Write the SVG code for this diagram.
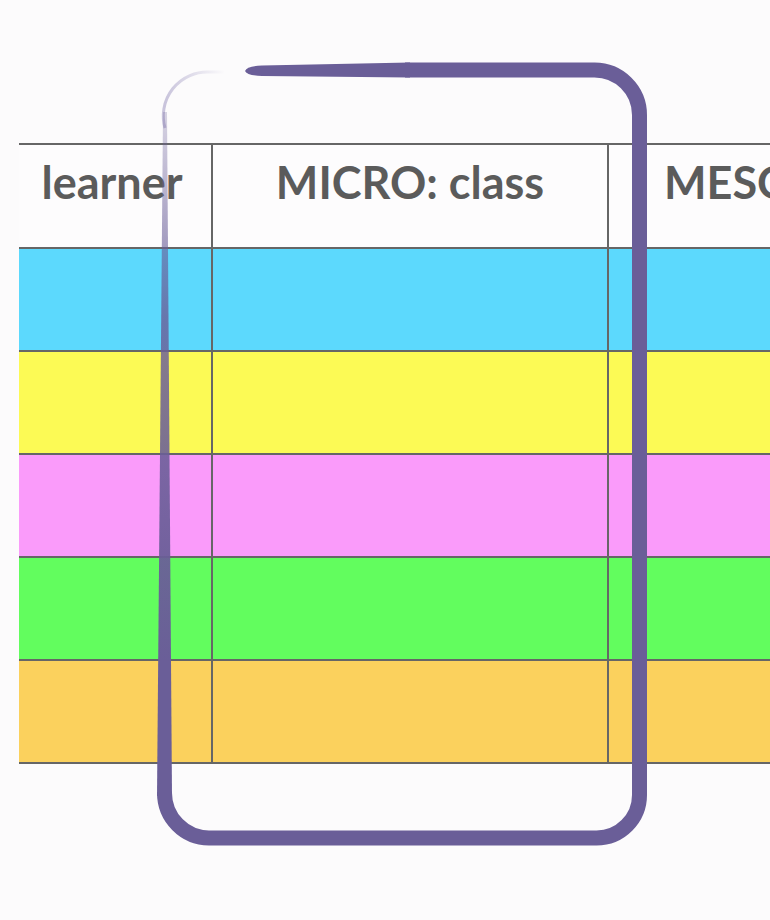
<svg xmlns="http://www.w3.org/2000/svg" width="770" height="920" viewBox="0 0 770 920">
  <style>
    .grid { stroke: #666666; stroke-width: 2; fill: none; }
    .head { font-family: Lato, "Open Sans", "DejaVu Sans", sans-serif; font-weight: bold; font-size: 45px; fill: #5b5b5b; }
    .loop { fill: none; stroke: #6a5e98; stroke-linecap: butt; stroke-linejoin: round; }
  </style>
  <defs>
    <linearGradient id="leftFade" x1="0" y1="110" x2="0" y2="800" gradientUnits="userSpaceOnUse">
      <stop offset="0" stop-color="#6a5e98" stop-opacity="0.25"/>
      <stop offset="0.3" stop-color="#6a5e98" stop-opacity="0.8"/>
      <stop offset="0.8" stop-color="#6a5e98" stop-opacity="1"/>
    </linearGradient>
    <linearGradient id="arcFade" x1="165" y1="0" x2="225" y2="0" gradientUnits="userSpaceOnUse">
      <stop offset="0" stop-color="#8a80b4" stop-opacity="0.45"/>
      <stop offset="1" stop-color="#8a80b4" stop-opacity="0"/>
    </linearGradient>
  </defs>

  <rect width="770" height="920" fill="#fcfbfc"/>

  <!-- table bands -->
  <g id="table">
    <rect x="19" y="144" width="760" height="104" fill="#fdfcfd"/>
    <rect x="19" y="248" width="760" height="103" fill="#5cd9fd"/>
    <rect x="19" y="351" width="760" height="103" fill="#fcfa55"/>
    <rect x="19" y="454" width="760" height="103" fill="#fa9bfa"/>
    <rect x="19" y="557" width="760" height="103" fill="#62fd5e"/>
    <rect x="19" y="660" width="760" height="103" fill="#fbd15d"/>
    <path class="grid" d="M19 144 H770 M19 248 H770 M19 351 H770 M19 454 H770 M19 557 H770 M19 660 H770 M19 763 H770 M212 144 V763 M608 144 V763"/>
  </g>

  <g id="col-learner"><text class="head" x="112" y="199" text-anchor="middle">learner</text></g>
  <g id="col-micro"><text class="head" x="410" y="199" text-anchor="middle">MICRO: class</text></g>
  <g id="col-meso"><text class="head" x="664" y="199">MESO</text></g>

  <!-- hand-drawn rounded frame around the class column -->
  <g id="frame">
    <!-- faint top-left arc -->
    <path d="M165 128 A44 44 0 0 1 209 72 L224 72" fill="none" stroke="url(#arcFade)" stroke-width="3"/>
    <!-- left side, thin and pale at the top, heavier toward the bottom -->
    <path d="M163 112 L167 112 L172 796 L157 796 Z" fill="url(#leftFade)"/>
    <!-- tapering start of the top stroke -->
    <path d="M245 71 Q247 66 262 65.5 L410 62.5 L410 77.5 L262 76 Q247 75.5 245 71 Z" fill="#6a5e98"/>
    <!-- main stroke: top, right side, bottom, bottom-left corner -->
    <path class="loop" stroke-width="15" d="M405 70 L594 70 A45 45 0 0 1 639.5 115 L639.5 795 A43 43 0 0 1 596.5 838 L209 838 A45 45 0 0 1 164.5 793 L164.5 792"/>
  </g>
</svg>
